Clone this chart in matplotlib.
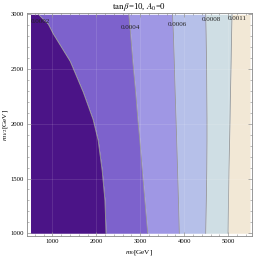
import numpy as np
import matplotlib
matplotlib.use('Agg')
import matplotlib.pyplot as plt
from matplotlib.ticker import MultipleLocator

plt.rcParams['font.family'] = ['Liberation Serif', 'DejaVu Serif']
plt.rcParams['mathtext.fontset'] = 'stix'

# boundary x positions (m0) at given m1/2 values for each contour level
y_pts = [1000, 1300, 1580, 1850, 2040, 2290, 2570, 2820, 2910, 3000]
b_0002 = [2220, 2195, 2130, 2040, 1925, 1700, 1405, 1020, 905, 680]
b_0004 = [3170, 3105, 3045, 2990, 2945, 2895, 2830, 2780, 2760, 2740]
b_0006 = [3890, 3870, 3850, 3830, 3815, 3795, 3775, 3755, 3745, 3735]
b_0008 = [4490, 4505, 4515, 4520, 4520, 4515, 4510, 4500, 4495, 4490]
b_0011 = [5000, 5010, 5020, 5035, 5045, 5055, 5070, 5080, 5085, 5090]

levels = ['0.0002', '0.0004', '0.0006', '0.0008', '0.0011']
label_x = [726, 2782, 3845, 4613, 5200]
label_y = [2936, 2881, 2908, 2954, 2963]
colors = ['#4b1487', '#7d62cc', '#9f97e4', '#b6c0e9', '#cfdee4', '#f2e8d6']

x_min, x_max = 500, 5500

fig = plt.figure(figsize=(2.55, 2.59), dpi=100)
ax = fig.add_axes([27/255, 23/259, 225/255, 223/259])

y = np.array(y_pts)
bounds = [np.full(len(y), x_min)] + [np.array(b) for b in
          [b_0002, b_0004, b_0006, b_0008, b_0011]] + [np.full(len(y), x_max)]
for i in range(6):
    ax.fill_betweenx(y, bounds[i], bounds[i+1], color=colors[i], lw=0)
for b in bounds[1:-1]:
    ax.plot(b, y, color='#999999', lw=0.6)

# faint mesh lines
for gx in range(1000, 5001, 1000):
    ax.axvline(gx, color='white', lw=0.5, alpha=0.15)
for gy in range(1500, 3000, 500):
    ax.axhline(gy, color='white', lw=0.5, alpha=0.15)

for t, lx, ly in zip(levels, label_x, label_y):
    ax.text(lx, ly, t, fontsize=5, ha='center', va='center', color='#222222')

ax.set_xlim(420, 5545)
ax.set_ylim(975, 3012)
ax.xaxis.set_major_locator(MultipleLocator(1000))
ax.xaxis.set_minor_locator(MultipleLocator(200))
ax.yaxis.set_major_locator(MultipleLocator(500))
ax.yaxis.set_minor_locator(MultipleLocator(100))
ax.tick_params(which='both', direction='in', top=True, right=True,
               labelsize=4.8, color='#888888', pad=2)
ax.tick_params(which='major', length=3, width=0.5)
ax.tick_params(which='minor', length=1.5, width=0.4)
for s in ax.spines.values():
    s.set_color('#888888')
    s.set_linewidth(0.6)

ax.set_title(r'$\tan\beta$=10, $A_0$=0', fontsize=6.3, pad=2)
ax.set_xlabel(r'$m_0$[GeV]', fontsize=5.2, labelpad=3)
yl = ax.set_ylabel(r'$m_{1/2}$[GeV]', fontsize=5.2)
yl.set_va('center')
ax.yaxis.set_label_coords(-21/225, 0.5)

fig.savefig('out.png', dpi=100)
